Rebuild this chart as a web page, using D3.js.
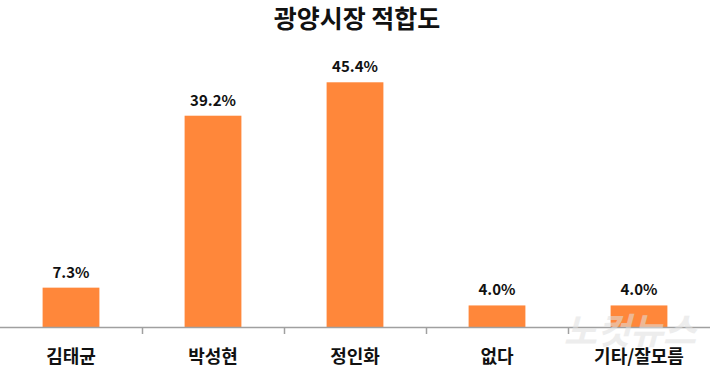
<!DOCTYPE html>
<html>
<head>
<meta charset="utf-8">
<script src="https://cdn.jsdelivr.net/npm/d3@7"></script>
<style>
  body { margin: 0; background: #fff; }
  svg { display: block; font-family: "Noto Sans CJK KR", "Noto Sans", sans-serif; }
</style>
</head>
<body>
<svg width="710" height="375"></svg>
<script>
const title = "광양시장 적합도";
const candidates = ["김태균", "박성현", "정인화", "없다", "기타/잘모름"];
const shares = [7.3, 39.2, 45.4, 4.0, 4.0];

const width = 710, height = 375;
const axisY = 327;

const svg = d3.select("svg");

const x = d3.scaleBand()
    .domain(candidates)
    .range([0, width])
    .padding(0);

const y = d3.scaleLinear()
    .domain([0, 50])
    .range([axisY, axisY - 269.5]);

const barW = x.bandwidth() * 0.4;

// title
svg.append("text")
    .attr("x", 357)
    .attr("y", 28)
    .attr("text-anchor", "middle")
    .attr("font-size", 25)
    .attr("font-weight", "bold")
    .attr("fill", "#111")
    .text(title);

// bars
svg.selectAll(".bar")
    .data(candidates)
    .enter()
    .append("rect")
    .attr("class", "bar")
    .attr("x", (d) => x(d) + (x.bandwidth() - barW) / 2)
    .attr("y", (d, i) => y(shares[i]))
    .attr("width", barW)
    .attr("height", (d, i) => axisY - y(shares[i]))
    .attr("fill", "#FF873A");

// value labels
svg.selectAll(".val")
    .data(candidates)
    .enter()
    .append("text")
    .attr("class", "val")
    .attr("x", (d) => x(d) + x.bandwidth() / 2)
    .attr("y", (d, i) => y(shares[i]) - 10)
    .attr("text-anchor", "middle")
    .attr("font-size", 15)
    .attr("font-weight", "bold")
    .attr("fill", "#111")
    .text((d, i) => shares[i].toFixed(1) + "%");

// axis line + ticks at category boundaries
const axis = svg.append("g");
axis.append("line")
    .attr("x1", 0).attr("x2", width)
    .attr("y1", axisY + 0.5).attr("y2", axisY + 0.5)
    .attr("stroke", "#A0A0A0")
    .attr("stroke-width", 1.5);

axis.selectAll(".tick")
    .data(candidates.slice(1))
    .enter()
    .append("line")
    .attr("x1", (d) => Math.round(x(d)) + 0.5)
    .attr("x2", (d) => Math.round(x(d)) + 0.5)
    .attr("y1", axisY)
    .attr("y2", axisY + 7)
    .attr("stroke", "#A0A0A0")
    .attr("stroke-width", 1.5);

// category labels
svg.selectAll(".cat")
    .data(candidates)
    .enter()
    .append("text")
    .attr("class", "cat")
    .attr("x", (d) => x(d) + x.bandwidth() / 2)
    .attr("y", 363)
    .attr("text-anchor", "middle")
    .attr("font-size", 18)
    .attr("font-weight", "bold")
    .attr("fill", "#111")
    .text((d) => d);

// watermark
svg.append("text")
    .attr("transform", "translate(630,344) skewX(-15)")
    .attr("text-anchor", "middle")
    .attr("font-size", 36)
    .attr("font-weight", "bold")
    .attr("fill", "#e0e0e0")
    .attr("opacity", 0.55)
    .text("노컷뉴스");
</script>
</body>
</html>
